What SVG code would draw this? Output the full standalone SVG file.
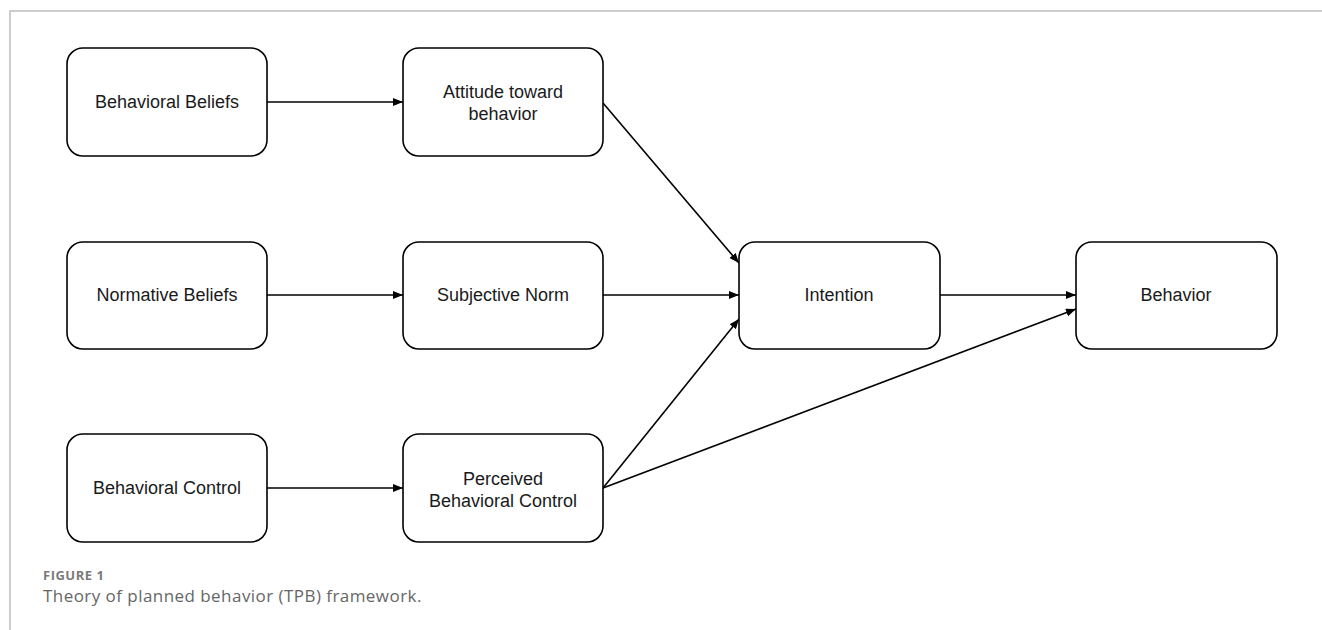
<svg xmlns="http://www.w3.org/2000/svg" width="1322" height="630" viewBox="0 0 1322 630">
<style>
.node rect{fill:#ffffff;stroke:#000000;stroke-width:1.6}
.node text{font-family:"Liberation Sans",Arial,sans-serif;font-size:18px;fill:#1a1a1a;text-anchor:middle}
.edge{stroke:#000000;stroke-width:1.6;fill:none;marker-end:url(#arrow)}
.frame{stroke:#bdbdbd;stroke-width:1.5;fill:none}
.fig{font-family:"Open Sans","Noto Sans",sans-serif;font-size:13px;letter-spacing:0.5px;font-weight:bold;fill:#7a7a7a}
.cap{font-family:"Open Sans","Noto Sans",sans-serif;font-size:17px;letter-spacing:0.45px;fill:#666666}
</style>
<defs>
<marker id="arrow" markerUnits="userSpaceOnUse" markerWidth="11" markerHeight="9" refX="10" refY="4" orient="auto">
<path d="M0,0 L10,4 L0,8 z" fill="#000000"/>
</marker>
</defs>
<rect width="1322" height="630" fill="#ffffff"/>
<path class="frame" d="M10,630 L10,11 L1322,11"/>
<g id="connectors">
<line class="edge" x1="267" y1="102" x2="403" y2="102"/>
<line class="edge" x1="267" y1="295" x2="403" y2="295"/>
<line class="edge" x1="267" y1="488" x2="403" y2="488"/>
<line class="edge" x1="603" y1="103" x2="739" y2="263"/>
<line class="edge" x1="603" y1="295" x2="739" y2="295"/>
<line class="edge" x1="603" y1="488" x2="739" y2="319"/>
<line class="edge" x1="940" y1="295" x2="1076" y2="295"/>
<line class="edge" x1="603" y1="488" x2="1076" y2="309"/>
</g>
<g id="behavioral-beliefs" class="node">
<rect x="67" y="48" width="200" height="108" rx="16"/>
<text x="167" y="108">Behavioral Beliefs</text>
</g>
<g id="normative-beliefs" class="node">
<rect x="67" y="242" width="200" height="107" rx="16"/>
<text x="167" y="301">Normative Beliefs</text>
</g>
<g id="behavioral-control" class="node">
<rect x="67" y="434" width="200" height="108" rx="16"/>
<text x="167" y="494">Behavioral Control</text>
</g>
<g id="attitude" class="node">
<rect x="403" y="48" width="200" height="108" rx="16"/>
<text x="503" y="98">Attitude toward</text>
<text x="503" y="120">behavior</text>
</g>
<g id="subjective-norm" class="node">
<rect x="403" y="242" width="200" height="107" rx="16"/>
<text x="503" y="301">Subjective Norm</text>
</g>
<g id="pbc" class="node">
<rect x="403" y="434" width="200" height="108" rx="16"/>
<text x="503" y="485">Perceived</text>
<text x="503" y="507">Behavioral Control</text>
</g>
<g id="intention" class="node">
<rect x="739" y="242" width="201" height="107" rx="16"/>
<text x="839" y="301">Intention</text>
</g>
<g id="behavior" class="node">
<rect x="1076" y="242" width="201" height="107" rx="16"/>
<text x="1176" y="301">Behavior</text>
</g>
<text class="fig" x="43" y="580">FIGURE 1</text>
<text class="cap" x="43" y="602">Theory of planned behavior (TPB) framework.</text>
</svg>
